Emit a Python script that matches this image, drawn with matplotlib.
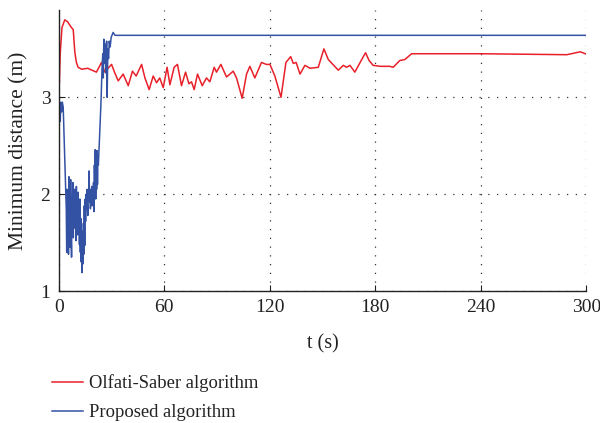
import matplotlib
matplotlib.use("Agg")
import matplotlib.pyplot as plt

# Olfati-Saber algorithm (red)
red_t = [0, 0.8, 1.8, 3.4, 5.0, 7.2, 8.2, 9.1, 10.0, 11.0, 13.0, 16.5, 17.6, 21.4,
         24.3, 26.2, 28.0, 30.0, 31.9, 33.8, 36.6, 39.5, 41.9, 44.0, 47.1, 49.0,
         51.4, 53.7, 55.6, 57.4, 59.4, 61.6, 63.2, 65.6, 67.5, 69.8, 72.1, 74.0,
         75.5, 77.0, 78.9, 81.6, 84.0, 85.9, 88.4, 89.7, 92.2, 95.4, 99.2, 101.1,
         104.3, 106.8, 108.7, 111.5, 115.3, 118.0, 120.1, 122.9, 126.4, 129.2, 131.9,
         133.4, 135.0, 137.2, 140.0, 142.9, 147.6, 150.8, 153.3, 159.0, 161.8, 163.7,
         165.6, 168.4, 172.3, 174.5, 176.5, 178.8, 183.0, 188.3, 190.2, 194.0, 196.8,
         200.7, 240.0, 289.0, 296.6, 299.5]
red_y = [2.95, 3.45, 3.72, 3.80, 3.78, 3.72, 3.70, 3.47, 3.36, 3.31, 3.29, 3.30, 3.29, 3.26,
         3.36, 3.26, 3.30, 3.34, 3.25, 3.17, 3.24, 3.12, 3.27, 3.22, 3.34, 3.20,
         3.08, 3.22, 3.15, 3.20, 3.10, 3.31, 3.13, 3.31, 3.34, 3.12, 3.26, 3.14,
         3.16, 3.08, 3.24, 3.12, 3.20, 3.16, 3.31, 3.26, 3.34, 3.21, 3.27, 3.20,
         2.99, 3.24, 3.32, 3.20, 3.36, 3.34, 3.34, 3.22, 3.00, 3.36, 3.42,
         3.35, 3.36, 3.24, 3.33, 3.30, 3.31, 3.50, 3.39, 3.28, 3.33, 3.31,
         3.33, 3.26, 3.39, 3.46, 3.38, 3.33, 3.32, 3.32, 3.31, 3.38, 3.39,
         3.45, 3.45, 3.44, 3.47, 3.45]

# Proposed algorithm (blue)
blue_t = [0, 0.3, 0.8, 1.2, 1.6, 2.0, 2.5, 3.0, 3.5, 4.0,
          4.25, 4.5, 4.75, 5.0, 5.25, 5.5, 5.75, 6.0, 6.25, 6.5,
          6.75, 7.0, 7.25, 7.5, 7.75, 8.0, 8.25, 8.5, 8.75, 9.0,
          9.25, 9.5, 9.75, 10.0, 10.25, 10.5, 10.75, 11.0, 11.25, 11.5,
          11.75, 12.0, 12.25, 12.5, 12.75, 13.0, 13.25, 13.5, 13.75, 14.0,
          14.25, 14.5, 14.75, 15.0, 15.25, 15.5, 15.75, 16.0, 16.25, 16.5,
          16.75, 17.0, 17.25, 17.5, 17.75, 18.0, 18.25, 18.5, 18.75, 19.0,
          19.25, 19.5, 19.75, 20.0, 20.25, 20.5, 20.75, 21.0, 21.25, 21.5,
          21.75, 22.0, 22.25, 22.5,
          23.3, 24.0, 24.6, 25.0, 25.3, 25.6, 26.0, 26.4, 26.8, 27.2, 27.5,
          27.9, 28.3, 28.7, 29.2, 29.8, 30.9, 32.0, 300.0]
blue_y = [1.97, 2.85, 2.75, 2.95, 2.85, 2.95, 2.90, 2.60, 2.30, 2.00,
          1.85, 1.40, 2.05, 1.55, 1.95, 1.38, 2.18, 1.70, 1.90, 1.45,
          2.15, 1.60, 1.35, 1.95, 1.80, 2.12, 1.55, 1.90, 1.65, 2.05,
          1.75, 1.98, 1.52, 2.08, 1.70, 1.92, 1.58, 2.02, 1.62, 1.85,
          1.48, 1.95, 1.40, 1.75, 1.30, 1.62, 1.19, 1.55, 1.28, 1.70,
          1.38, 1.88, 1.47, 1.95, 1.72, 2.00, 1.85, 2.05, 1.90, 1.78,
          2.02, 1.96, 2.24, 1.92, 2.05, 1.85, 2.00, 1.95, 2.08, 1.88,
          2.05, 1.92, 2.12, 1.82, 2.30, 2.00, 2.46, 1.95, 2.38, 2.05,
          2.45, 2.10, 2.40, 2.30,
          2.64, 2.95, 3.30, 3.45, 3.20, 3.60, 3.35, 3.55, 3.25, 3.58, 3.00,
          3.50, 3.40, 3.58, 3.52, 3.62, 3.67, 3.64, 3.64]

x_ticks = [0, 60, 120, 180, 240, 300]
y_ticks = [1, 2, 3]

plt.rcParams['font.family'] = ['Liberation Serif', 'DejaVu Serif']
plt.rcParams['font.size'] = 13

fig = plt.figure(figsize=(6.0, 4.23), dpi=100)
ax = fig.add_axes([0.098, 0.312, 0.879, 0.664])

l1, = ax.plot(red_t, red_y, color='#e8202a', lw=1.1, label='Olfati-Saber algorithm')
l2, = ax.plot(blue_t, blue_y, color='#3452a4', lw=1.1, label='Proposed algorithm')

ax.set_xlim(0, 300)
ax.set_ylim(1, 3.9)
ax.set_xticks(x_ticks)
ax.set_yticks(y_ticks)
ax.tick_params(direction='in', length=4, width=0.8, colors='#222222', pad=6,
               labelsize=14)
ax.grid(True, color='#333333', linestyle=(0, (1, 6)), linewidth=0.9)
for s in ['top', 'right']:
    ax.spines[s].set_visible(False)
for s in ['left', 'bottom']:
    ax.spines[s].set_linewidth(1.0)
    ax.spines[s].set_color('#222222')

ax.set_xlabel('t (s)', color='#222222', fontsize=14.5, labelpad=13)
ax.set_ylabel('Minimum distance (m)', color='#222222', fontsize=15.5, labelpad=9)

fig.legend(handles=[l1, l2], loc='upper left', bbox_to_anchor=(0.074, 0.132),
           frameon=False, handlelength=1.65, handletextpad=0.35, labelspacing=0.62,
           borderaxespad=0, labelcolor='#222222', prop={'size': 13.4})

fig.savefig('out.png', dpi=100)
